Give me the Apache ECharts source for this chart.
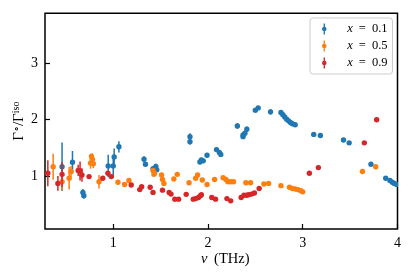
<!DOCTYPE html>
<html><head><meta charset="utf-8">
<script src="https://cdn.jsdelivr.net/npm/echarts@6/dist/echarts.min.js"></script>
<style>html,body{margin:0;padding:0;background:#fff}#c{width:415px;height:278px}</style>
</head><body><div id="c"></div>
<script>
// [nu (THz), ratio, error]
var series01 = [
 [0.46,1.165,0.43],[0.57,1.245,0.2],[0.68,0.71,0.06],[0.69,0.65,0.05],
 [0.947,1.18,0.2],[1.0,1.18,0.2],[1.01,1.34,0.15],[1.06,1.52,0.1],
 [1.325,1.30,0.05],[1.34,1.21,0.04],[1.42,1.13,0.05],[1.45,1.17,0.05],[1.46,1.11,0.04],
 [1.81,1.70,0.06],[1.81,1.61,0.05],[1.915,1.25,0.04],[1.93,1.285,0.04],[1.95,1.27,0.04],[1.99,1.37,0.03],
 [2.09,1.47,0.03],[2.12,1.42,0.03],[2.135,1.385,0.03],[2.31,1.89,0.05],
 [2.37,1.73,0.04],[2.39,1.76,0.04],[2.41,1.83,0.05],[2.37,1.70,0.04],
 [2.50,2.17,0.04],[2.53,2.21,0.03],[2.66,2.14,0.05],
 [2.77,2.13,0.04],[2.79,2.09,0.03],[2.81,2.05,0.03],[2.83,2.01,0.03],[2.85,1.98,0.03],
 [2.87,1.95,0.03],[2.89,1.93,0.03],[2.92,1.91,0.03],
 [3.116,1.74,0.02],[3.186,1.72,0.02],[3.43,1.64,0.02],[3.49,1.59,0.02],[3.72,1.21,0.02],
 [3.876,0.96,0.02],[3.92,0.92,0.02],[3.945,0.89,0.02],[3.966,0.87,0.02],[3.99,0.85,0.02]
];
var series05 = [
 [0.366,1.165,0.23],[0.46,0.90,0.15],[0.535,0.96,0.2],[0.555,1.08,0.1],
 [0.76,1.23,0.1],[0.78,1.30,0.1],[0.79,1.22,0.08],[0.77,1.35,0.05],[0.85,0.90,0.12],
 [1.05,0.89,0.04],[1.12,0.85,0.03],[1.166,0.92,0.03],
 [1.42,1.10,0.04],[1.435,1.05,0.04],[1.43,1.03,0.03],[1.51,1.02,0.03],[1.52,0.94,0.03],[1.535,0.87,0.03],
 [1.64,0.947,0.03],[1.676,1.03,0.03],[1.80,0.88,0.03],[1.87,0.96,0.03],[1.89,1.02,0.03],
 [1.94,0.93,0.03],[1.99,0.85,0.02],[2.07,0.94,0.02],[2.16,0.97,0.02],[2.19,0.94,0.02],
 [2.21,0.90,0.02],[2.24,0.90,0.02],[2.27,0.90,0.02],[2.40,0.88,0.02],[2.45,0.88,0.02],
 [2.59,0.86,0.02],[2.64,0.87,0.02],[2.77,0.83,0.02],
 [2.86,0.80,0.02],[2.89,0.78,0.02],[2.92,0.77,0.02],[2.95,0.76,0.02],[2.98,0.74,0.02],[3.0,0.72,0.02],
 [3.63,1.08,0.02],[3.77,1.165,0.02]
];
var series09 = [
 [0.31,1.05,0.23],[0.416,0.87,0.13],[0.46,1.03,0.22],
 [0.63,1.10,0.1],[0.65,1.09,0.17],[0.67,1.02,0.12],[0.745,0.99,0.03],
 [0.89,0.96,0.03],[0.944,1.05,0.03],[0.98,0.99,0.03],
 [1.19,0.84,0.03],[1.28,0.76,0.03],[1.30,0.81,0.03],[1.39,0.80,0.02],[1.42,0.71,0.02],
 [1.52,0.75,0.02],[1.59,0.71,0.02],[1.61,0.68,0.02],[1.65,0.59,0.02],[1.69,0.59,0.02],
 [1.77,0.675,0.02],[1.845,0.59,0.02],[1.87,0.60,0.02],[1.90,0.62,0.02],[1.92,0.65,0.02],[1.93,0.67,0.02],
 [2.04,0.62,0.02],[2.08,0.59,0.02],[2.20,0.60,0.02],[2.24,0.56,0.02],
 [2.35,0.62,0.02],[2.38,0.66,0.02],[2.41,0.66,0.02],[2.43,0.67,0.02],[2.46,0.68,0.02],[2.49,0.70,0.02],
 [2.54,0.78,0.02],[3.07,1.05,0.02],[3.165,1.15,0.02],[3.65,1.59,0.02],[3.78,2.0,0.02]
];
var seriesNames = ['x = 0.1','x = 0.5','x = 0.9'];
var seriesColors = ['#1f77b4','#ff7f0e','#d62728'];
var xTicks = [1,2,3,4];
var yTicks = [1,2,3];

var FONT = 'Liberation Serif';
var chart = echarts.init(document.getElementById('c'), null, {renderer:'canvas'});
function renderItem(params, api){
  var x=api.value(0), y=api.value(1), e=api.value(2);
  var p=api.coord([x,y]), t=api.coord([x,y+e]), b=api.coord([x,y-e]);
  var color=api.visual('color');
  return {type:'group', children:[
    {type:'line', shape:{x1:p[0],y1:t[1],x2:p[0],y2:b[1]}, style:{stroke:color,lineWidth:1.5}},
    {type:'circle', shape:{cx:p[0],cy:p[1],r:2.7}, style:{fill:color}}
  ]};
}
var dataSets=[series01,series05,series09];
var icon='path://M3.5,0h3v24h-3z M5,7a5,5 0 1,1 -0.001,0z';
var series = dataSets.map(function(d,i){
  return {type:'custom', name:seriesNames[i], data:d, renderItem:renderItem,
    encode:{x:0,y:1}, itemStyle:{color:seriesColors[i]}, clip:true, z:2+i};
});
var lab = {fontFamily:FONT,fontSize:14,color:'#000'};
chart.setOption({
  animation:false,
  color:seriesColors,
  grid:{left:45,right:17.5,top:13.3,bottom:49,outerBoundsMode:'none',containLabel:false,
    show:true,borderColor:'#000',borderWidth:1.5,backgroundColor:'transparent'},
  legend:{
    orient:'vertical', right:22.5, top:18,
    data:seriesNames.map(function(n){return {name:n, icon:icon};}),
    itemWidth:30, itemHeight:11, itemGap:4, symbolKeepAspect:true,
    padding:[4.5,5,4.5,12], borderColor:'#cccccc', borderWidth:1, borderRadius:3,
    backgroundColor:'rgba(255,255,255,0.8)',
    formatter:function(n){return '{i|x}{e|=}' + n.slice(4);},
    textStyle:{fontFamily:FONT,fontSize:12.5,color:'#000',
      rich:{i:{fontFamily:FONT,fontStyle:'italic',fontSize:12.5,color:'#000',padding:[0,0,0,3]},
            e:{fontFamily:FONT,fontSize:12.5,color:'#000',padding:[0,6,0,6]}}}
  },
  xAxis:{type:'value', min:0.28, max:4,
    axisLine:{show:false},
    axisTick:{show:true,inside:true,length:5,lineStyle:{color:'#000',width:1.2},customValues:xTicks},
    axisLabel:Object.assign({customValues:xTicks,margin:7},lab),
    splitLine:{show:false},
    name:'{i|ν} (THz)', nameLocation:'middle', nameGap:23, nameMoveOverlap:false,
    nameTextStyle:{fontFamily:FONT,fontSize:14.5,color:'#000',padding:[0,0,0,8],
      rich:{i:{fontFamily:FONT,fontStyle:'italic',fontSize:14.5,color:'#000',padding:[0,3,0,0]}}}
  },
  yAxis:{type:'value', min:0.06, max:3.89,
    axisLine:{show:false},
    axisTick:{show:true,inside:true,length:5,lineStyle:{color:'#000',width:1.2},customValues:yTicks},
    axisLabel:Object.assign({customValues:yTicks,margin:7},lab),
    splitLine:{show:false},
    name:'Γ{s|∘}/Γ{s|iso}', nameLocation:'middle', nameGap:17, nameRotate:90, nameMoveOverlap:false,
    nameTextStyle:{fontFamily:FONT,fontSize:15,color:'#000',
      rich:{s:{fontFamily:FONT,fontSize:10,color:'#000',verticalAlign:'bottom',padding:[0,0,7,0]}}}
  },
  series:series
});
</script></body></html>
